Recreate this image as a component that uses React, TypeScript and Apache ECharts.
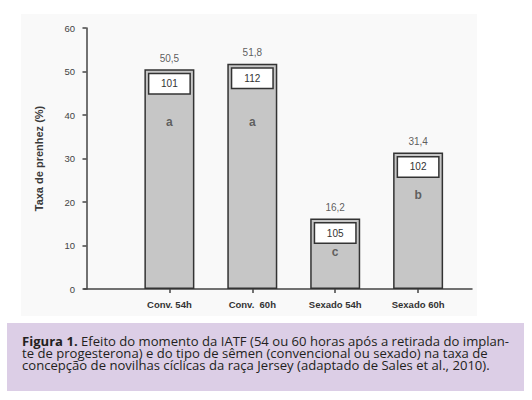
import React, { useEffect, useRef } from "react";
import * as echarts from "echarts";

const categories = ["Conv. 54h", "Conv.  60h", "Sexado 54h", "Sexado 60h"];
const rates = [50.5, 51.8, 16.2, 31.4];
const counts = [101, 112, 105, 102];
const letters = ["a", "a", "c", "b"];
const letterY = [38.4, 38.4, 8.5, 21.6];
const yTicks = [0, 10, 20, 30, 40, 50, 60];
const captionTitle = "Figura 1.";
const captionLines = [
  "Efeito do momento da IATF (54 ou 60 horas após a retirada do implan-",
  "te de progesterona) e do tipo de sêmen (convencional ou sexado) na taxa de",
  "concepção de novilhas cíclicas da raça Jersey (adaptado de Sales et al., 2010).",
];

const FONT = "'Liberation Sans', Arial, sans-serif";
const CAP_FONT = "'Open Sans', sans-serif";
const CAP_SIZE = 13.1;

export default function App() {
  const ref = useRef<HTMLDivElement>(null);
  useEffect(() => {
    if (!ref.current) return;
    const chart = echarts.init(ref.current, null, { renderer: "svg" });
    const pos = categories.map((_, i) => i + 1);
    const captionTexts = captionLines.map((line, i) => ({
      type: "text",
      x: 22,
      y: 342 + i * 11.7,
      scaleY: 0.9,
      style: {
        text: i === 0 ? "{b|" + captionTitle + "} {n|" + line + "}" : "{n|" + line + "}",
        verticalAlign: "middle",
        fill: "#231f20",
        fontFamily: CAP_FONT,
        fontSize: CAP_SIZE,
        rich: {
          b: { fontWeight: "bold", fontSize: CAP_SIZE, fontFamily: CAP_FONT, fill: "#231f20" },
          n: { fontSize: CAP_SIZE, fontFamily: CAP_FONT, fill: "#231f20" },
        },
      },
    }));
    chart.setOption({
      animation: false,
      backgroundColor: "#ffffff",
      graphic: [
        {
          type: "rect",
          z: -10,
          shape: { x: 21, y: 14, width: 456, height: 302 },
          style: { fill: "#f9f9f9" },
          silent: true,
        },
        {
          type: "rect",
          z: -10,
          shape: { x: 7, y: 323, width: 517, height: 68 },
          style: { fill: "#dccee6" },
          silent: true,
        },
        ...captionTexts,
      ],
      grid: { left: 84, right: 60, top: 28, bottom: 111, containLabel: false },
      xAxis: {
        type: "value",
        min: -0.03,
        max: 4.65,
        splitLine: { show: false },
        axisLine: { show: true, onZero: false, lineStyle: { color: "#444", width: 1.5 } },
        axisTick: { show: true, customValues: pos, length: 4, lineStyle: { color: "#444", width: 1.5 } },
        axisLabel: {
          customValues: pos,
          formatter: (v: number) => categories[Math.round(v) - 1] ?? "",
          fontFamily: FONT,
          fontSize: 9.5,
          fontWeight: "bold",
          color: "#333",
          margin: 10,
        },
      },
      yAxis: {
        type: "value",
        min: 0,
        max: 60,
        interval: 10,
        name: "Taxa de prenhez (%)",
        nameLocation: "middle",
        nameGap: 40,
        nameTextStyle: { fontFamily: FONT, fontSize: 11, fontWeight: "bold", color: "#3a3a3a" },
        splitLine: { show: false },
        axisLine: { show: true, lineStyle: { color: "#444", width: 1.5 } },
        axisTick: { show: true, length: 4, lineStyle: { color: "#444", width: 1.5 } },
        axisLabel: {
          fontFamily: FONT,
          fontSize: 9.5,
          color: "#444",
          margin: 9,
          formatter: (v: number) => (yTicks.includes(v) ? String(v) : ""),
        },
      },
      series: [
        {
          type: "bar",
          barWidth: 50,
          data: rates.map((r, i) => [pos[i], r]),
          itemStyle: { color: "#c6c6c6", borderColor: "#333", borderWidth: 1.5 },
          label: {
            show: true,
            position: "insideTop",
            distance: 5,
            formatter: (p: any) => String(counts[p.dataIndex]),
            backgroundColor: "#ffffff",
            borderColor: "#333",
            borderWidth: 1.5,
            width: 40,
            lineHeight: 11,
            padding: [4, 0],
            align: "center",
            fontFamily: FONT,
            fontSize: 10,
            color: "#333",
          },
          z: 2,
        },
        {
          type: "scatter",
          symbolSize: 0,
          data: rates.map((r, i) => [pos[i], r]),
          label: {
            show: true,
            position: "top",
            distance: 6,
            formatter: (p: any) => rates[p.dataIndex].toFixed(1).replace(".", ","),
            fontFamily: FONT,
            fontSize: 10,
            color: "#333",
          },
          z: 3,
        },
        {
          type: "scatter",
          symbolSize: 0,
          data: letterY.map((y, i) => [pos[i], y]),
          label: {
            show: true,
            position: "inside",
            formatter: (p: any) => letters[p.dataIndex],
            fontFamily: FONT,
            fontSize: 12,
            fontWeight: "bold",
            color: "#444",
          },
          z: 3,
        },
      ],
    });
    return () => chart.dispose();
  }, []);
  return (
    <div
      ref={ref}
      style={{ position: "fixed", left: 0, top: 0, width: 532, height: 400 }}
    />
  );
}
